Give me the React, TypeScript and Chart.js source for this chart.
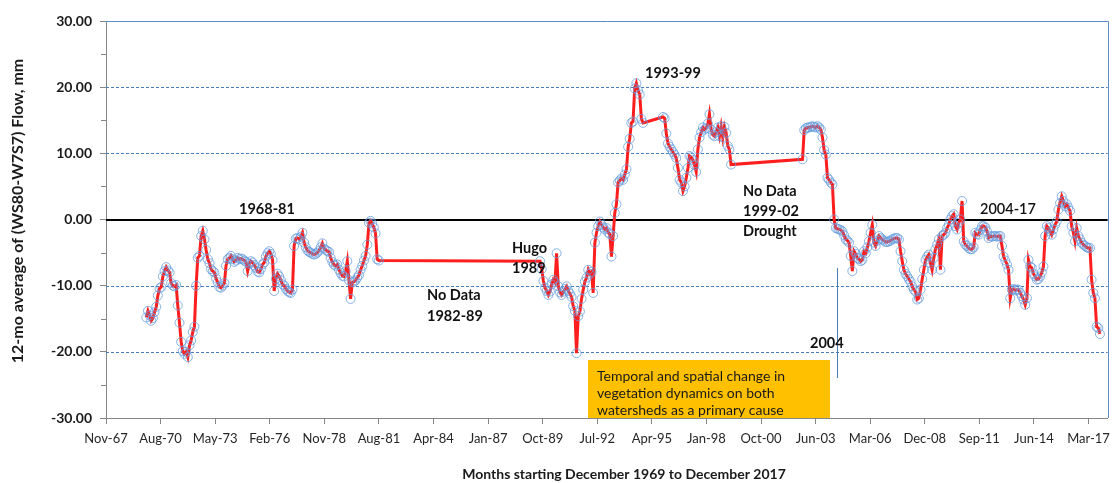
import React, { useEffect, useRef } from 'react';
import { Chart, registerables } from 'chart.js';

Chart.register(...registerables);

// ---- Data (12-mo average difference, mm) ----
const seg1Start = [1969, 12];
const seg1Values = [
  -14.8, -13.8, -14.5, -15.3, -14.9, -14.0, -13.2, -11.5, -10.4, -10.2,
  -8.6, -7.8, -7.2, -7.7, -8.0, -9.6, -10.0, -10.1, -9.9, -13.0,
  -15.6, -18.5, -19.9, -20.3, -20.0, -20.8, -19.0, -18.3, -17.0, -16.2,
  -10.0, -5.8, -5.5, -2.5, -1.7, -3.0, -4.6, -6.0, -6.6, -7.5,
  -7.8, -8.0, -8.9, -9.5, -10.2, -10.3, -10.0, -9.6, -7.0, -6.0,
  -5.8, -5.5, -6.0, -6.4, -6.2, -5.8, -6.0, -5.9, -6.0, -6.2,
  -6.4, -7.8, -6.7, -6.3, -6.5, -6.9, -7.3, -7.9, -8.0, -7.5,
  -6.8, -6.5, -5.6, -5.1, -4.8, -5.2, -6.1, -10.8, -9.0, -8.2,
  -8.6, -9.2, -9.8, -10.0, -10.5, -10.8, -11.0, -11.1, -10.6, -4.0,
  -2.9, -2.8, -3.0, -2.6, -2.0, -3.5, -4.2, -4.7, -4.9, -5.0,
  -5.2, -5.3, -5.2, -5.0, -4.7, -4.2, -3.6, -4.4, -4.6, -4.8,
  -4.9, -5.8, -6.4, -6.8, -7.0, -6.8, -7.6, -8.1, -8.5, -8.6,
  -7.8, -6.3, -9.2, -12.0, -9.5, -9.4, -9.2, -8.8, -8.4, -7.6,
  -7.0, -6.2, -5.5, -3.8, -0.5, -0.2, -0.6, -1.2, -2.1, -6.0,
  -6.2,
];

const seg2Start = [1989, 9];
const seg2Values = [
  -6.3, -7.5, -9.3, -10.3, -10.8, -11.4, -10.9, -9.8, -9.1, -9.5,
  -5.1, -10.1, -11.0, -11.4, -10.9, -10.5, -10.1, -10.8, -11.2, -11.7,
  -13.1, -13.8, -20.2, -14.6, -13.9, -12.0, -10.6, -9.4, -8.8, -7.6,
  -8.2, -7.9, -11.1, -3.5, -2.0, -1.0, -0.3, -0.8, -1.2, -1.5,
  -1.3, -2.0, -2.2, -5.6, -2.5, 1.0, 2.3, 5.6, 5.9, 6.2,
  6.0, 6.8, 7.6, 11.0, 12.2, 14.6, 14.8, 19.8, 20.6, 19.5,
  18.9, 15.2, 14.6,
];

const seg3Start = [1995, 11];
const seg3Values = [
  15.5, 15.3, 13.0, 11.5, 11.0, 10.6, 10.2, 9.8, 9.3, 7.8,
  6.0, 5.6, 4.3, 5.0, 6.3, 7.8, 9.6, 9.4, 9.0, 8.2,
  7.2, 10.6, 12.4, 13.2, 13.9, 13.6, 13.8, 14.5, 15.9, 13.6,
  12.8, 12.6, 13.2, 13.9, 12.6, 14.1, 12.4, 14.0, 13.1, 11.1,
  10.6, 8.3,
];

const seg4Start = [2002, 11];
const seg4Values = [
  9.1,
  13.5, 13.8, 13.9, 13.9, 14.0, 14.1, 14.0, 13.9, 14.1, 13.9,
  13.6, 12.4, 10.5, 9.8, 6.3, 6.0, 5.6, 5.3, 0.0,
  -1.3, -1.4, -1.5, -1.6, -1.8,
  -2.4, -3.0, -3.2, -3.5, -5.5, -7.8, -4.8, -5.2, -5.8, -6.0,
  -6.3, -6.1, -4.8, -5.1, -4.2, -3.3, -2.0, -0.8, -3.5, -4.0,
  -3.2, -2.5, -2.8, -3.0, -3.2, -3.4, -3.4, -3.3, -3.2, -3.0,
  -2.9, -2.8, -2.8, -3.0, -4.8, -6.3, -7.6, -8.2, -8.6, -9.0,
  -9.4, -10.1, -10.6, -10.9, -12.1, -11.9, -10.6, -9.0, -7.6, -6.1,
  -5.6, -5.3, -6.6, -7.6, -5.8, -4.5, -3.8, -3.0, -7.6, -2.5,
  -2.3, -2.0, -1.3, -0.8, 0.0, 0.5, 0.8, -1.0, -1.5, -0.5,
  0.0, 2.8, -3.3, -3.8, -4.0, -4.3, -4.5, -4.5, -4.2, -2.0,
  -2.2, -2.3, -1.6, -1.0, -1.0, -1.2, -1.8, -2.8, -2.5, -2.6,
  -2.5, -2.5, -2.6, -2.5, -2.5, -4.0, -5.6, -6.2, -6.8, -7.6,
  -11.9, -10.6, -10.5, -10.7, -10.6, -10.6, -11.1, -11.6, -12.1, -12.9,
  -11.9, -6.1, -7.1, -7.3, -8.2, -8.6, -9.1, -9.0, -8.6, -8.0,
  -7.1, -2.5, -1.0, -1.3, -1.8, -2.3, -1.5, -0.8, -0.3, 1.5,
  2.5, 3.5, 2.8, 2.0, 2.3, 1.8, 1.3, -1.0, -2.0, -3.3,
  -1.3, -2.5, -3.0, -3.5, -3.8, -4.0, -4.2, -4.3, -4.3, -9.1,
  -11.1, -11.9, -16.2, -16.4, -17.3,
];

// Axis settings (Excel date serials)
const xMin = 24800;
const xMax = 43150;
const xTickValues = [
  24800, 25800, 26800, 27800, 28800, 29800, 30800, 31800, 32800, 33800,
  34800, 35800, 36800, 37800, 38800, 39800, 40800, 41800, 42800,
];
const yTickValues = [-30, -20, -10, 0, 10, 20, 30];
const yMinorTicks = [-25, -15, -5, 5, 15, 25];
const dashedGridValues = [-20, -10, 10, 20];
const markerDate = [2004, 8];

const MONTHS = ['Jan', 'Feb', 'Mar', 'Apr', 'May', 'Jun', 'Jul', 'Aug', 'Sep', 'Oct', 'Nov', 'Dec'];
const EXCEL_EPOCH = Date.UTC(1899, 11, 30);

function serialOf(year: number, month: number): number {
  return (Date.UTC(year, month - 1, 1) - EXCEL_EPOCH) / 86400000;
}
function fmtSerial(serial: number): string {
  const d = new Date(EXCEL_EPOCH + serial * 86400000);
  return MONTHS[d.getUTCMonth()] + '-' + String(d.getUTCFullYear() % 100).padStart(2, '0');
}

function buildPoints() {
  const segs: [number[], number[]][] = [
    [seg1Start, seg1Values],
    [seg2Start, seg2Values],
    [seg3Start, seg3Values],
    [seg4Start, seg4Values],
  ];
  const pts: { x: number; y: number }[] = [];
  segs.forEach(([start, vals]) => {
    vals.forEach((v, i) => pts.push({ x: serialOf(start[0], start[1] + i), y: v }));
  });
  return pts;
}

const FONT = 'Lato, "Open Sans", "DejaVu Sans", sans-serif';

const overlayPlugin = {
  id: 'overlay',
  beforeDatasetsDraw(chart: any) {
    const { ctx, chartArea, scales } = chart;
    const ys = scales.y;
    ctx.save();
    ctx.strokeStyle = '#4A7EBB';
    ctx.lineWidth = 1;
    ctx.setLineDash([3, 2]);
    dashedGridValues.forEach((v) => {
      const y = Math.round(ys.getPixelForValue(v)) + 0.5;
      ctx.beginPath();
      ctx.moveTo(chartArea.left, y);
      ctx.lineTo(chartArea.right, y);
      ctx.stroke();
    });
    ctx.setLineDash([]);
    ctx.strokeStyle = '#5B8BC9';
    const top = Math.round(ys.getPixelForValue(30)) + 0.5;
    ctx.beginPath();
    ctx.moveTo(chartArea.left, top);
    ctx.lineTo(Math.round(chartArea.right) + 0.5, top);
    ctx.lineTo(Math.round(chartArea.right) + 0.5, chartArea.bottom);
    ctx.stroke();
    ctx.strokeStyle = '#000000';
    ctx.lineWidth = 2;
    const z = Math.round(ys.getPixelForValue(0));
    ctx.beginPath();
    ctx.moveTo(chartArea.left, z);
    ctx.lineTo(chartArea.right, z);
    ctx.stroke();
    ctx.restore();
  },
  afterDraw(chart: any) {
    const { ctx, chartArea, scales } = chart;
    const ys = scales.y;
    const xs = scales.x;
    ctx.save();
    ctx.strokeStyle = '#868686';
    ctx.lineWidth = 1;
    yMinorTicks.forEach((v) => {
      const y = Math.round(ys.getPixelForValue(v)) + 0.5;
      ctx.beginPath();
      ctx.moveTo(chartArea.left - 5, y);
      ctx.lineTo(chartArea.left, y);
      ctx.stroke();
    });

    const mx = Math.round(xs.getPixelForValue(serialOf(markerDate[0], markerDate[1]))) + 0.5;
    ctx.strokeStyle = '#4A7EBB';
    ctx.beginPath();
    ctx.moveTo(mx, 268);
    ctx.lineTo(mx, 378);
    ctx.stroke();

    ctx.fillStyle = '#FFC000';
    ctx.fillRect(588, 360, 242, chartArea.bottom - 360);
    ctx.fillStyle = '#1a1a1a';
    ctx.font = `400 14px ${FONT}`;
    ctx.textAlign = 'left';
    ctx.textBaseline = 'middle';
    ctx.fillText('Temporal and spatial change in', 597, 376);
    ctx.fillText('vegetation dynamics on both', 597, 393);
    ctx.fillText('watersheds as a primary cause', 597, 410);

    ctx.fillStyle = '#111111';
    ctx.font = `700 14.5px ${FONT}`;
    const labels: [string, number, number][] = [
      ['1968-81', 239, 209],
      ['No Data', 427, 295],
      ['1982-89', 427, 316],
      ['Hugo', 512, 248],
      ['1989', 512, 268],
      ['1993-99', 645, 73],
      ['No Data', 743, 191],
      ['1999-02', 743, 211],
      ['Drought', 743, 231],
      ['2004', 810, 343],
    ];
    labels.forEach(([t, x, y]) => ctx.fillText(t, x, y));
    ctx.font = `600 14.5px ${FONT}`;
    ctx.fillText('2004-17', 980, 209);

    ctx.fillStyle = '#1a1a1a';
    ctx.font = `700 14px ${FONT}`;
    ctx.textAlign = 'center';
    ctx.fillText('Months starting December 1969 to December 2017', 624, 474);
    ctx.translate(18, 211);
    ctx.rotate(-Math.PI / 2);
    ctx.font = `700 16px ${FONT}`;
    ctx.fillText('12-mo average of (WS80-W7S7) Flow, mm', 0, 0);
    ctx.restore();
  },
};

export default function App() {
  const canvasRef = useRef<HTMLCanvasElement | null>(null);

  useEffect(() => {
    const canvas = canvasRef.current;
    if (!canvas) return;
    const points = buildPoints();
    const chart = new Chart(canvas, {
      type: 'line',
      data: {
        datasets: [
          {
            data: points,
            showLine: false,
            pointRadius: 4.5,
            pointBorderWidth: 1,
            pointBorderColor: 'rgba(100,155,220,0.75)',
            pointBackgroundColor: 'rgba(255,255,255,0)',
            borderColor: 'rgba(100,155,220,0.75)',
          },
          {
            data: points,
            borderColor: '#FF1E1E',
            borderWidth: 3,
            pointRadius: 0,
            tension: 0,
            fill: false,
          },
        ],
      },
      options: {
        animation: false,
        responsive: false,
        maintainAspectRatio: false,
        layout: { padding: { left: 0, right: 2, top: 21, bottom: 0 } },
        plugins: { legend: { display: false }, tooltip: { enabled: false } },
        scales: {
          x: {
            type: 'linear',
            min: xMin,
            max: xMax,
            afterBuildTicks: (s: any) => {
              s.ticks = xTickValues.map((v) => ({ value: v }));
            },
            afterFit: (s: any) => {
              s.height = 65;
            },
            ticks: {
              callback: (v: any) => fmtSerial(Number(v)),
              autoSkip: false,
              maxRotation: 0,
              minRotation: 0,
              color: '#262626',
              font: { family: FONT, size: 13, weight: '400' },
              padding: 7,
            },
            grid: {
              drawOnChartArea: false,
              drawTicks: true,
              tickLength: 6,
              tickColor: '#868686',
              tickWidth: 1,
            },
            border: { display: true, color: '#868686', width: 1 },
          },
          y: {
            min: -30,
            max: 30,
            afterBuildTicks: (s: any) => {
              s.ticks = yTickValues.map((v) => ({ value: v }));
            },
            afterFit: (s: any) => {
              s.width = 106;
            },
            ticks: {
              callback: (v: any) => Number(v).toFixed(2),
              color: '#1a1a1a',
              font: { family: FONT, size: 14, weight: '700' },
              padding: 8,
            },
            grid: {
              drawOnChartArea: false,
              drawTicks: true,
              tickLength: 6,
              tickColor: '#868686',
              tickWidth: 1,
            },
            border: { display: true, color: '#868686', width: 1 },
          },
        },
      },
      plugins: [overlayPlugin],
    });
    return () => chart.destroy();
  }, []);

  return (
    <div style={{ position: 'fixed', left: 0, top: 0, width: 1117, height: 483, background: '#ffffff' }}>
      <canvas ref={canvasRef} width={1117} height={483} style={{ display: 'block' }} />
    </div>
  );
}
